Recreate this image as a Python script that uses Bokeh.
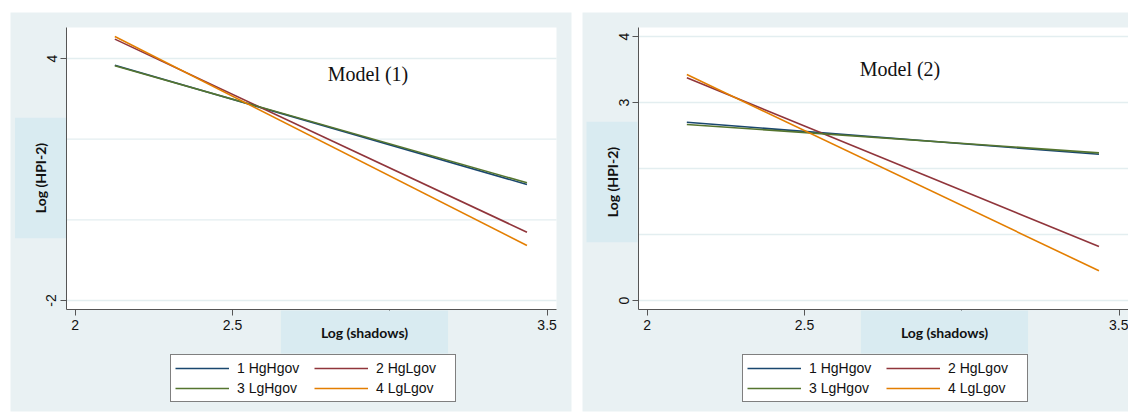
import math
from bokeh.plotting import figure
from bokeh.models import (FixedTicker, Label, Legend, LegendItem, Range1d,
                          BoxAnnotation)
from bokeh.layouts import row
from bokeh.embed import file_html
from bokeh.resources import INLINE

# ---------------- data ----------------
series = ["1 HgHgov", "2 HgLgov", "3 LgHgov", "4 LgLgov"]
colors = ["#1a476f", "#90353b", "#55752f", "#e37e00"]

x_points = [2.126, 3.436]          # Log (shadows): ends of fitted lines

m1_hghgov = [3.83, 0.876]
m1_hglgov = [4.48, -0.307]
m1_lghgov = [3.82, 0.918]
m1_lglgov = [4.545, -0.637]

m2_hghgov = [2.70, 2.215]
m2_hglgov = [3.374, 0.818]
m2_lghgov = [2.667, 2.237]
m2_lglgov = [3.424, 0.45]

x_ticks = [2, 2.5, 3, 3.5]
x_tick_labels = ["2", "2.5", "", "3.5"]

m1_y_ticks = [-2, 4]
m1_y_tick_labels = ["-2", "4"]
m1_y_grid = [-2, 0, 2, 4]

m2_y_ticks = [0, 3, 4]
m2_y_tick_labels = ["0", "3", "4"]
m2_y_grid = [0, 1, 2, 3, 4]

titles = ["Model (1)", "Model (2)"]
x_title = "Log (shadows)"
y_title = "Log (HPI-2)"

# ---------------- style ----------------
BG = "#e9f1f3"
BOX = "#d9ebf1"
GRID = "#e3eef0"
AXIS = "#555555"
SANS = "Liberation Sans"
PPU_X = 314.6          # pixels per x unit
FIG_TOP, FIG_H = 0, 412


def make_panel(fig_left, fig_width, tick2_px, y_ref, y_ref_px, ppu_y,
               bg_lr, plot_lr, y_ticks, y_tick_labels, y_grid, ys, title,
               title_px, ytitle_px, xtitle_px, legend_px):
    # page-pixel -> data helpers (layout only)
    fx = lambda px: 2 + (px - tick2_px) / PPU_X
    fy = lambda py: y_ref - (py - y_ref_px) / ppu_y

    p = figure(width=fig_width, height=FIG_H, output_backend="svg",
               toolbar_location=None,
               x_range=Range1d(fx(fig_left), fx(fig_left + fig_width)),
               y_range=Range1d(fy(FIG_TOP + FIG_H), fy(FIG_TOP)),
               min_border=0)
    p.border_fill_color = "white"
    p.background_fill_color = "white"
    p.outline_line_color = None
    p.xgrid.visible = False
    p.ygrid.visible = False

    plot_top, plot_bot = 27, 309.3
    # outer graph region and white plot region
    p.add_layout(BoxAnnotation(left=fx(bg_lr[0]), right=fx(bg_lr[1]),
                               top=fy(12), bottom=fy(411),
                               fill_color=BG, fill_alpha=1, line_color=None,
                               level="underlay"))
    p.add_layout(BoxAnnotation(left=fx(plot_lr[0]), right=fx(plot_lr[1]),
                               top=fy(plot_top), bottom=fy(plot_bot),
                               fill_color="white", fill_alpha=1, line_color=None,
                               level="underlay"))

    # grid lines limited to plot region
    n = len(y_grid)
    p.segment(x0=[fx(plot_lr[0])] * n, x1=[fx(plot_lr[1])] * n,
              y0=y_grid, y1=y_grid, line_color=GRID, line_width=1.3)

    # axes
    p.xaxis.fixed_location = fy(plot_bot)
    p.xaxis.bounds = (fx(plot_lr[0]), fx(plot_lr[1]))
    p.yaxis.fixed_location = fx(plot_lr[0])
    p.yaxis.bounds = (fy(plot_bot), fy(plot_top))
    p.xaxis.ticker = FixedTicker(ticks=x_ticks)
    p.xaxis.major_label_overrides = {t: l for t, l in zip(x_ticks, x_tick_labels)}
    p.yaxis.ticker = FixedTicker(ticks=y_ticks)
    p.yaxis.major_label_overrides = {t: l for t, l in zip(y_ticks, y_tick_labels)}
    p.yaxis.major_label_orientation = "vertical"
    for ax in (p.xaxis[0], p.yaxis[0]):
        ax.axis_line_color = AXIS
        ax.axis_line_width = 1
        ax.major_tick_line_color = AXIS
        ax.major_tick_out = 6
        ax.major_tick_in = 0
        ax.minor_tick_line_color = None
        ax.major_label_text_font = SANS
        ax.major_label_text_font_size = "14px"
        ax.major_label_text_color = "#111111"
        ax.major_label_standoff = 4

    items = {}
    for name, col, yv in zip(series, colors, ys):
        r = p.line(x_points, yv, line_color=col, line_width=1.6)
        items[name] = LegendItem(label=name, renderers=[r])
    # legend columns fill top-to-bottom: col 1 = series 1,3 ; col 2 = series 2,4
    ordered = [items[series[i]] for i in (0, 2, 1, 3)]

    leg = Legend(items=ordered, ncols=2,
                 location=(legend_px[0] - fig_left, FIG_TOP + FIG_H - legend_px[1]),
                 background_fill_color="white", background_fill_alpha=1,
                 border_line_color="black", border_line_width=1,
                 label_text_font=SANS, label_text_font_size="14px",
                 label_text_color="#111111",
                 glyph_width=54, glyph_height=18, label_height=18,
                 label_width=75, label_standoff=8, spacing=2, padding=4, margin=0)
    p.add_layout(leg)

    p.add_layout(Label(x=fx(title_px[0]), y=fy(title_px[1]), text=title,
                       text_font="Liberation Serif", text_font_size="20px",
                       text_align="center", text_baseline="middle",
                       text_color="#111111"))
    p.add_layout(Label(x=fx(ytitle_px[0]), y=fy(ytitle_px[1]), text=y_title,
                       angle=math.pi / 2, text_font="Lato", text_font_style="bold",
                       text_font_size="14px", text_align="center",
                       text_baseline="middle", text_color="#111111",
                       background_fill_color=BOX, background_fill_alpha=1,
                       padding=dict(left=25, right=25, top=17, bottom=17)))
    p.add_layout(Label(x=fx(xtitle_px[0]), y=fy(xtitle_px[1]), text=x_title,
                       text_font="Lato", text_font_style="bold",
                       text_font_size="14px", text_align="center",
                       text_baseline="middle", text_color="#111111",
                       background_fill_color=BOX, background_fill_alpha=1,
                       padding=dict(left=40, right=40, top=13, bottom=13)))
    return p


p1 = make_panel(0, 576, 74.7, 4, 58, 40.33, (10, 571), (66, 556),
                m1_y_ticks, m1_y_tick_labels, m1_y_grid,
                [m1_hghgov, m1_hglgov, m1_lghgov, m1_lglgov], titles[0],
                (367.5, 73), (40, 177.5), (364, 331.5), (170, 402))

p2 = make_panel(576, 552, 646.7, 4, 36, 66.0, (582, 1130), (638, 1130),
                m2_y_ticks, m2_y_tick_labels, m2_y_grid,
                [m2_hghgov, m2_hglgov, m2_lghgov, m2_lglgov], titles[1],
                (899.5, 68), (611.5, 181.5), (944, 331.5), (742, 402))

layout = row(p1, p2)

open("out.html", "w").write(file_html(layout, INLINE))
